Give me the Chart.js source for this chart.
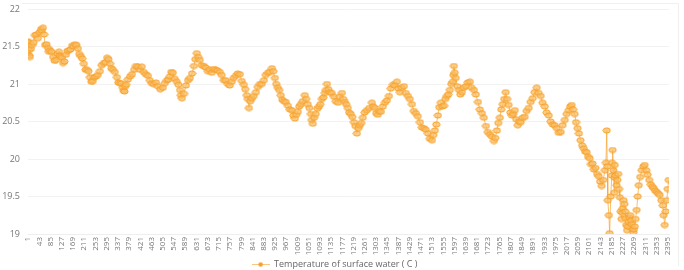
<!DOCTYPE html>
<html>
<head>
<meta charset="utf-8">
<script src="https://cdn.jsdelivr.net/npm/chart.js@4.4.1/dist/chart.umd.min.js"></script>
<style>
  html, body { margin: 0; padding: 0; background: #fff; }
  #wrap { position: relative; width: 684px; height: 270px; }
  #marco { position: absolute; left: 22px; top: 3px; width: 656px; height: 262px;
           border-top: 1px solid #f0f0f0; border-right: 1px solid #f0f0f0; }
  canvas { position: absolute; left: 0; top: 0; }
</style>
</head>
<body>
<div id="wrap">
  <div id="marco"></div>
  <canvas id="chartTemperatura" width="684" height="270"></canvas>
</div>
<script>
// Índice de muestra (eje x) y temperatura
const sampleIdx = [
  1, 3, 5, 6, 8, 12, 16, 21, 27, 32, 38, 44, 50, 53, 57, 61, 65, 70, 76, 79,
  83, 89, 95, 100, 106, 111, 117, 120, 124, 128, 132, 137, 143, 148, 154, 160, 166, 171, 177, 182,
  188, 193, 199, 204, 210, 216, 222, 227, 233, 238, 244, 249, 255, 262, 270, 277, 285, 291, 297, 302,
  308, 313, 319, 326, 334, 339, 345, 350, 356, 359, 362, 365, 368, 375, 383, 390, 398, 405, 412, 420,
  427, 434, 442, 450, 457, 464, 472, 480, 487, 496, 506, 513, 521, 526, 532, 537, 543, 550, 558, 564,
  570, 573, 577, 585, 592, 600, 607, 615, 622, 627, 633, 638, 644, 651, 659, 666, 674, 681, 689, 696,
  704, 711, 719, 726, 734, 741, 749, 756, 764, 771, 779, 786, 794, 801, 809, 814, 820, 824, 828, 833,
  839, 846, 854, 861, 869, 876, 884, 891, 899, 906, 914, 919, 925, 930, 936, 941, 947, 953, 959, 966,
  974, 981, 989, 994, 1000, 1005, 1011, 1016, 1022, 1029, 1037, 1042, 1048, 1054, 1060, 1063, 1067, 1072, 1078, 1084,
  1090, 1095, 1101, 1106, 1112, 1116, 1120, 1125, 1131, 1138, 1146, 1153, 1161, 1168, 1176, 1181, 1187, 1192, 1198, 1203,
  1209, 1215, 1221, 1226, 1232, 1237, 1243, 1248, 1254, 1261, 1269, 1278, 1288, 1293, 1299, 1304, 1310, 1316, 1322, 1329,
  1337, 1344, 1352, 1359, 1367, 1374, 1382, 1387, 1393, 1400, 1408, 1415, 1423, 1430, 1438, 1445, 1453, 1460, 1468, 1475,
  1483, 1490, 1498, 1505, 1513, 1518, 1524, 1529, 1535, 1540, 1546, 1552, 1558, 1563, 1569, 1574, 1580, 1585, 1591, 1593,
  1595, 1598, 1602, 1608, 1614, 1619, 1625, 1632, 1640, 1647, 1655, 1662, 1670, 1677, 1685, 1692, 1700, 1707, 1715, 1722,
  1730, 1737, 1745, 1750, 1756, 1761, 1767, 1772, 1778, 1783, 1789, 1794, 1800, 1806, 1812, 1817, 1823, 1828, 1834, 1839,
  1845, 1852, 1860, 1867, 1875, 1882, 1890, 1897, 1905, 1912, 1920, 1927, 1935, 1942, 1950, 1957, 1965, 1972, 1980, 1987,
  1995, 2002, 2010, 2017, 2025, 2030, 2036, 2041, 2047, 2052, 2058, 2063, 2069, 2075, 2081, 2086, 2092, 2097, 2103, 2108,
  2114, 2119, 2125, 2131, 2137, 2142, 2148, 2154, 2160, 2164, 2167, 2169, 2171, 2175, 2178, 2182, 2186, 2187, 2189, 2192,
  2195, 2196, 2197, 2200, 2204, 2207, 2210, 2213, 2216, 2219, 2222, 2225, 2227, 2230, 2233, 2236, 2238, 2240, 2243, 2246,
  2249, 2252, 2255, 2258, 2261, 2263, 2266, 2269, 2272, 2275, 2279, 2283, 2287, 2292, 2298, 2304, 2309, 2315, 2320, 2326,
  2332, 2338, 2343, 2348, 2354, 2360, 2365, 2371, 2377, 2380, 2384, 2388, 2392, 2395, 2399
];
const temperature = [
  21.57, 21.55, 21.45, 21.38, 21.36, 21.47, 21.52, 21.55, 21.65, 21.66, 21.61, 21.69, 21.73, 21.71, 21.75, 21.66, 21.52, 21.53, 21.48, 21.43,
  21.45, 21.43, 21.36, 21.31, 21.32, 21.40, 21.43, 21.38, 21.37, 21.35, 21.28, 21.30, 21.39, 21.44, 21.45, 21.46, 21.51, 21.50, 21.53, 21.52,
  21.47, 21.40, 21.37, 21.34, 21.27, 21.19, 21.19, 21.17, 21.09, 21.03, 21.04, 21.09, 21.10, 21.12, 21.17, 21.25, 21.28, 21.29, 21.35, 21.33,
  21.27, 21.21, 21.19, 21.16, 21.09, 21.02, 21.01, 21.01, 20.95, 20.91, 20.90, 20.97, 20.99, 21.06, 21.10, 21.13, 21.19, 21.24, 21.23, 21.19,
  21.23, 21.16, 21.13, 21.11, 21.05, 21.01, 21.00, 21.02, 20.97, 20.93, 20.95, 21.01, 21.05, 21.06, 21.10, 21.16, 21.15, 21.07, 21.03, 20.99,
  20.92, 20.85, 20.81, 20.87, 20.98, 21.05, 21.08, 21.14, 21.24, 21.33, 21.41, 21.36, 21.32, 21.25, 21.24, 21.22, 21.17, 21.19, 21.15, 21.20,
  21.19, 21.18, 21.16, 21.12, 21.05, 21.05, 21.00, 20.98, 21.03, 21.08, 21.11, 21.14, 21.13, 21.04, 20.99, 20.93, 20.85, 20.80, 20.68, 20.77,
  20.81, 20.84, 20.89, 20.96, 21.00, 21.00, 21.05, 21.12, 21.15, 21.16, 21.21, 21.17, 21.08, 21.00, 20.95, 20.92, 20.85, 20.79, 20.77, 20.76,
  20.71, 20.66, 20.65, 20.58, 20.54, 20.59, 20.63, 20.70, 20.73, 20.77, 20.85, 20.80, 20.73, 20.68, 20.60, 20.52, 20.47, 20.55, 20.60, 20.67,
  20.70, 20.73, 20.80, 20.82, 20.88, 20.92, 21.00, 20.93, 20.89, 20.88, 20.83, 20.77, 20.75, 20.83, 20.88, 20.80, 20.76, 20.73, 20.68, 20.62,
  20.60, 20.56, 20.49, 20.44, 20.34, 20.41, 20.45, 20.48, 20.55, 20.62, 20.65, 20.68, 20.75, 20.70, 20.68, 20.61, 20.59, 20.64, 20.63, 20.70,
  20.75, 20.78, 20.84, 20.94, 20.99, 20.98, 21.03, 20.94, 20.89, 20.95, 20.97, 20.88, 20.84, 20.80, 20.73, 20.64, 20.61, 20.57, 20.49, 20.42,
  20.41, 20.39, 20.34, 20.27, 20.25, 20.32, 20.38, 20.46, 20.58, 20.69, 20.75, 20.70, 20.71, 20.80, 20.84, 20.86, 20.92, 21.00, 21.03, 21.12,
  21.24, 21.15, 21.08, 20.97, 20.92, 20.86, 20.89, 20.95, 20.97, 21.02, 21.03, 20.95, 20.92, 20.86, 20.76, 20.66, 20.61, 20.55, 20.44, 20.36,
  20.33, 20.30, 20.24, 20.28, 20.38, 20.48, 20.55, 20.66, 20.73, 20.80, 20.89, 20.80, 20.72, 20.62, 20.58, 20.60, 20.65, 20.53, 20.45, 20.50,
  20.49, 20.55, 20.56, 20.64, 20.68, 20.76, 20.81, 20.89, 20.95, 20.88, 20.84, 20.75, 20.70, 20.62, 20.58, 20.50, 20.46, 20.45, 20.41, 20.35,
  20.36, 20.45, 20.52, 20.60, 20.65, 20.70, 20.72, 20.66, 20.60, 20.49, 20.41, 20.34, 20.25, 20.18, 20.14, 20.10, 20.09, 20.03, 20.01, 19.93,
  19.94, 19.86, 19.88, 19.80, 19.77, 19.70, 19.64, 19.72, 19.85, 19.95, 20.38, 19.90, 19.45, 19.25, 19.01, 19.50, 19.78, 19.95, 20.12, 19.85,
  19.55, 19.75, 19.92, 19.78, 19.65, 19.72, 19.80, 19.60, 19.49, 19.30, 19.20, 19.28, 19.34, 19.45, 19.40, 19.30, 19.21, 19.12, 19.05, 19.10,
  19.16, 19.22, 19.25, 19.18, 19.13, 19.06, 19.02, 19.06, 19.10, 19.20, 19.32, 19.50, 19.65, 19.76, 19.85, 19.90, 19.92, 19.85, 19.79, 19.72,
  19.66, 19.63, 19.61, 19.58, 19.56, 19.54, 19.52, 19.45, 19.38, 19.25, 19.12, 19.30, 19.45, 19.60, 19.72
];
// Etiquetas del eje x (cada 42 muestras)
const xTickLabels = [
  1, 43, 85, 127, 169, 211, 253, 295, 337, 379, 421, 463, 505, 547, 589, 631, 673, 715, 757, 799,
  841, 883, 925, 967, 1009, 1051, 1093, 1135, 1177, 1219, 1261, 1303, 1345, 1387, 1429, 1471, 1513, 1555, 1597, 1639,
  1681, 1723, 1765, 1807, 1849, 1891, 1933, 1975, 2017, 2059, 2101, 2143, 2185, 2227, 2269, 2311, 2353, 2395
];
const yTicks = [19, 19.5, 20, 20.5, 21, 21.5, 22];
const serieNombre = 'Temperature of surface water ( C )';

const naranja = '#F6A02A';

// Marcador: elipse naranja un poco más ancha que alta
function marcadorElipse() {
    const c = document.createElement('canvas');
    c.width = 9;
    c.height = 7;
    const g = c.getContext('2d');
    g.fillStyle = 'rgba(250, 190, 100, 0.75)';
    g.strokeStyle = naranja;
    g.lineWidth = 1;
    g.beginPath();
    g.ellipse(4.5, 3.5, 3.6, 2.6, 0, 0, Math.PI * 2);
    g.fill();
    g.stroke();
    return c;
}

// Icono de la leyenda: línea con punto
function iconoLeyenda() {
    const c = document.createElement('canvas');
    c.width = 18;
    c.height = 7;
    const g = c.getContext('2d');
    g.strokeStyle = 'rgba(247, 162, 46, 0.6)';
    g.lineWidth = 1;
    g.beginPath();
    g.moveTo(0, 3.5);
    g.lineTo(18, 3.5);
    g.stroke();
    g.fillStyle = naranja;
    g.beginPath();
    g.arc(9, 3.5, 2.2, 0, Math.PI * 2);
    g.fill();
    return c;
}

const ctx = document.getElementById('chartTemperatura').getContext('2d');

window.graficaTemperatura = new Chart(ctx, {
    type: 'line',
    data: {
        datasets: [{
            label: serieNombre,
            data: sampleIdx.map((x, i) => ({ x: x, y: temperature[i] })),
            borderColor: 'rgba(247, 162, 46, 0.7)',
            borderWidth: 1,
            pointStyle: marcadorElipse(),
            pointRadius: 3,
            tension: 0
        }]
    },
    options: {
        responsive: false,
        animation: false,
        layout: { padding: { left: 0, right: 15, top: 0, bottom: 0 } },
        scales: {
            x: {
                type: 'linear',
                min: 1,
                max: 2400,
                afterBuildTicks: function (axis) {
                    axis.ticks = xTickLabels.map(v => ({ value: v }));
                },
                afterFit: function (axis) { axis.height = 24; },
                grid: { display: false, drawTicks: false, tickLength: 0 },
                border: { color: '#eeeeee' },
                ticks: {
                    autoSkip: false,
                    minRotation: 90,
                    maxRotation: 90,
                    padding: 3,
                    color: '#777',
                    font: { family: 'Open Sans', size: 8 },
                    callback: function (value) { return String(value); }
                }
            },
            y: {
                min: 19,
                max: 22,
                afterBuildTicks: function (axis) {
                    axis.ticks = yTicks.map(v => ({ value: v }));
                },
                afterFit: function (axis) { axis.width = 28; },
                grid: { color: '#f2f2f2', drawTicks: false },
                border: { display: false },
                ticks: {
                    padding: 8,
                    color: '#777',
                    // lineHeight pequeño para que el área útil empiece arriba como en el original
                    font: { family: 'Open Sans', size: 9, lineHeight: '2px' },
                    callback: function (value) { return String(value); }
                }
            }
        },
        plugins: {
            legend: {
                position: 'bottom',
                maxHeight: 12,
                labels: {
                    usePointStyle: true,
                    pointStyleWidth: 18,
                    padding: 2,
                    color: '#666',
                    font: { family: 'Open Sans', size: 9 },
                    generateLabels: function (chart) {
                        return [{
                            text: serieNombre,
                            pointStyle: iconoLeyenda(),
                            fontColor: '#666',
                            datasetIndex: 0,
                            hidden: false,
                            lineWidth: 0
                        }];
                    }
                }
            },
            tooltip: { enabled: false }
        }
    }
});
</script>
</body>
</html>
